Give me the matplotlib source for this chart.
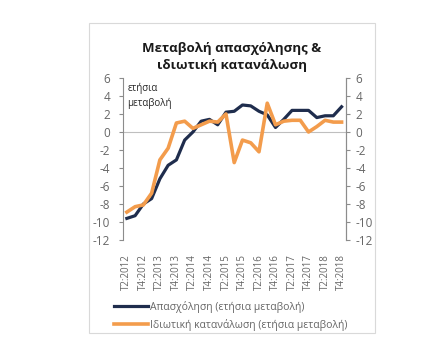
"""
Employment vs private consumption, annual change (%)
"""

import matplotlib.pyplot as plt
import matplotlib.patches as patches

plt.rcParams['font.family'] = ['Open Sans', 'DejaVu Sans']
plt.rcParams['axes.unicode_minus'] = False

quarters = ["T2:2012", "T3:2012", "T4:2012",
            "T1:2013", "T2:2013", "T3:2013", "T4:2013",
            "T1:2014", "T2:2014", "T3:2014", "T4:2014",
            "T1:2015", "T2:2015", "T3:2015", "T4:2015",
            "T1:2016", "T2:2016", "T3:2016", "T4:2016",
            "T1:2017", "T2:2017", "T3:2017", "T4:2017",
            "T1:2018", "T2:2018", "T3:2018", "T4:2018"]

employment = [-9.6, -9.3, -8.0, -7.4, -5.2, -3.7, -3.1,
              -0.9, 0.0, 1.2, 1.4, 0.8, 2.2, 2.3, 3.0,
              2.9, 2.3, 1.9, 0.5, 1.4, 2.4, 2.4, 2.4,
              1.6, 1.8, 1.8, 2.8]

consumption = [-8.9, -8.3, -8.1, -6.8, -3.1, -1.8, 1.0,
               1.2, 0.4, 0.8, 1.2, 1.1, 2.0, -3.4, -0.9,
               -1.2, -2.2, 3.2, 0.8, 1.2, 1.3, 1.3, 0.0,
               0.6, 1.3, 1.1, 1.1]

yticks = [6, 4, 2, 0, -2, -4, -6, -8, -10, -12]

navy = "#1f2d4d"
orange = "#f39c4c"
gray = "#8c8c8c"
label_col = "#666666"

fig = plt.figure(figsize=(4.44, 3.53), dpi=100)

# outer frame of the chart
fig.patches.append(patches.Rectangle((89 / 444, 1 - 333 / 353), 286 / 444, 310 / 353,
                                     transform=fig.transFigure, fill=False,
                                     edgecolor="#d9d9d9", linewidth=0.8))

ax = fig.add_axes([0.2764, 0.3201, 0.5022, 0.459])
x = list(range(len(quarters)))
ax.plot(x, employment, color=navy, linewidth=2.3, zorder=3,
        label="Απασχόληση (ετήσια μεταβολή)")
ax.plot(x, consumption, color=orange, linewidth=2.6, zorder=4,
        label="Ιδιωτική κατανάλωση (ετήσια μεταβολή)")
ax.axhline(0, color="#bfbfbf", linewidth=0.8, zorder=1)

ax.set_xlim(-0.5, len(quarters) - 0.5)
ax.set_ylim(-12, 6)
ax.set_yticks(yticks)
ax.set_xticks(x[::2])
ax.set_xticklabels(quarters[::2], rotation=90, fontsize=7, color=label_col)
ax.tick_params(axis="x", length=0, pad=10)
ax.tick_params(axis="y", labelsize=8.5, colors=label_col, length=3, color=gray, pad=6)

for side in ["top", "bottom"]:
    ax.spines[side].set_visible(False)
ax.spines["left"].set_color(gray)
ax.spines["right"].set_color(gray)

ax2 = ax.twinx()
ax2.set_ylim(-12, 6)
ax2.set_yticks(yticks)
ax2.tick_params(axis="y", labelsize=8.5, colors=label_col, length=3, color=gray, pad=4)
for side in ["top", "bottom", "left"]:
    ax2.spines[side].set_visible(False)
ax2.spines["right"].set_color(gray)

ax.text(0.02, 0.97, "ετήσια\nμεταβολή", transform=ax.transAxes, fontsize=7,
        color="#262626", va="top", ha="left", linespacing=1.5)

fig.text(232 / 444, 1 - 57 / 353, "Μεταβολή απασχόλησης &\nιδιωτική κατανάλωση",
         ha="center", va="center", fontsize=9.5, fontweight="bold", color="#1a1a1a",
         linespacing=1.35)

leg = ax.legend(loc="upper left", bbox_to_anchor=(114 / 444, 1 - 301 / 353),
                bbox_transform=fig.transFigure, frameon=False, fontsize=7.5,
                handlelength=3.3, handletextpad=0.2, labelspacing=0.55,
                borderpad=0, borderaxespad=0)
for t in leg.get_texts():
    t.set_color(label_col)

plt.savefig("out.png", dpi=100)
